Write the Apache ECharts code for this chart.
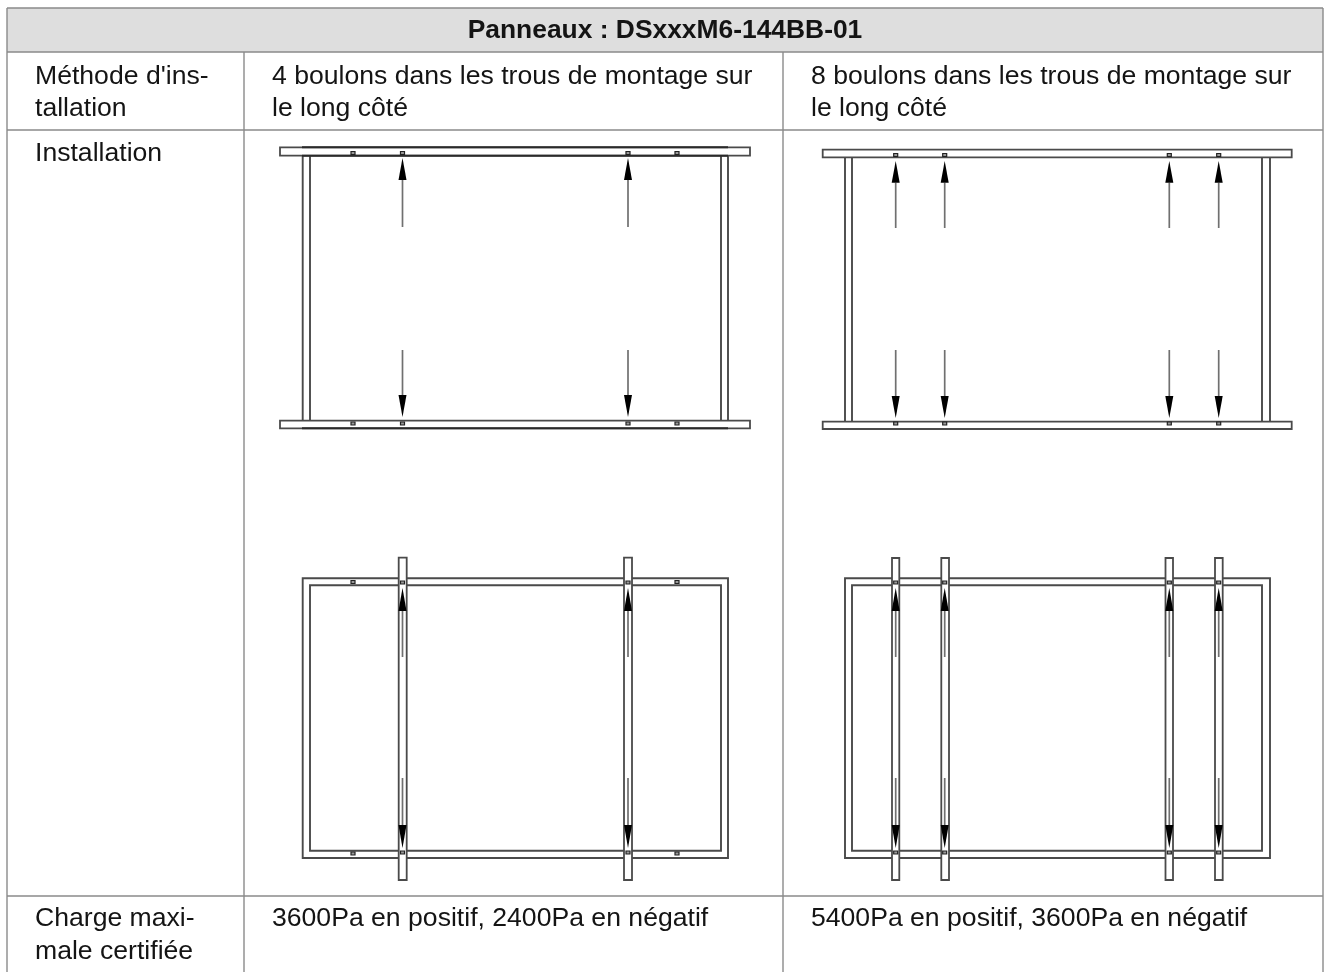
<!DOCTYPE html>
<html><head><meta charset="utf-8">
<style>html,body{margin:0;padding:0;background:#fff}#c{width:1324px;height:972px}</style>
<script src="https://cdn.jsdelivr.net/npm/echarts@6/dist/echarts.min.js"></script>
</head><body><div id="c"></div>
<script>
// Text cells: [x, y, text]
const headerText = [[665, 31, "Panneaux : DSxxxM6-144BB-01"]];
const bodyText = [
  [35, 77, "Méthode d'ins-"], [35, 109, "tallation"],
  [272, 77, "4 boulons dans les trous de montage sur"], [272, 109, "le long côté"],
  [811, 77, "8 boulons dans les trous de montage sur"], [811, 109, "le long côté"],
  [35, 154, "Installation"],
  [35, 919, "Charge maxi-"], [35, 952, "male certifiée"],
  [272, 919, "3600Pa en positif, 2400Pa en négatif"],
  [811, 919, "5400Pa en positif, 3600Pa en négatif"]
];
// Table rules: [x1, y1, x2, y2]
const tableRules = [
  [7, 8, 1323, 8], [7, 52, 1323, 52], [7, 130, 1323, 130], [7, 896, 1323, 896],
  [7, 8, 7, 972], [1323, 8, 1323, 972], [244, 52, 244, 972], [783, 52, 783, 972]
];
const headerBand = [[7, 8, 1323, 52]];
// Frames, drawn first: [x1, y1, x2, y2] as rectangles
const panelRects = [
  [302.7, 155, 310, 421], [721, 155, 728, 421],
  [845, 157, 852, 422], [1262, 157, 1270, 422],
  [302.7, 578.3, 728, 858], [310, 585.3, 721, 850.7],
  [845, 578.3, 1270, 858], [852, 585.3, 1262, 850.7]
];
// Mounting rails, white-filled, drawn on top of the frames
const railRects = [
  [280, 147.3, 750, 155.7], [280, 420.7, 750, 428.3],
  [822.7, 149.7, 1291.7, 157.3], [822.7, 421.7, 1291.7, 429],
  [398.7, 557.7, 406.7, 880], [624, 557.7, 632, 880],
  [892, 558, 899.3, 880], [941.3, 558, 949, 880], [1165.5, 558, 1173, 880], [1215, 558, 1222.7, 880]
];
// Heavier rail edge on the first diagram's rails
const heavyEdges = [[302, 147.3, 728, 147.3], [302, 155.7, 728, 155.7], [302, 428.3, 728, 428.3]];
// Holes: [x, y]
const holes = [
  [353, 153], [402.5, 153], [628, 153], [677, 153],
  [353, 423.5], [402.5, 423.5], [628, 423.5], [677, 423.5],
  [895.7, 155], [944.7, 155], [1169.3, 155], [1218.7, 155],
  [895.7, 423.5], [944.7, 423.5], [1169.3, 423.5], [1218.7, 423.5],
  [353, 582], [677, 582], [353, 853.5], [677, 853.5],
  [402.5, 582.5], [628, 582.5], [402.5, 852.5], [628, 852.5],
  [895.7, 582.5], [944.7, 582.5], [1169.3, 582.5], [1218.7, 582.5],
  [895.7, 852.5], [944.7, 852.5], [1169.3, 852.5], [1218.7, 852.5]
];
// Arrows: [x, tailY, baseY, tipY]
const arrows = [
  [402.5, 227, 180, 158], [628, 227, 180, 158], [402.5, 350, 395, 417], [628, 350, 395, 417],
  [895.7, 228, 182.7, 161], [944.7, 228, 182.7, 161], [1169.3, 228, 182.7, 161], [1218.7, 228, 182.7, 161],
  [895.7, 350, 396, 418], [944.7, 350, 396, 418], [1169.3, 350, 396, 418], [1218.7, 350, 396, 418],
  [402.5, 657, 611, 588], [628, 657, 611, 588], [402.5, 778, 825, 848], [628, 778, 825, 848],
  [895.7, 657, 611, 588], [944.7, 657, 611, 588], [1169.3, 657, 611, 588], [1218.7, 657, 611, 588],
  [895.7, 778, 825, 848], [944.7, 778, 825, 848], [1169.3, 778, 825, 848], [1218.7, 778, 825, 848]
];

const FONT = '"Liberation Sans", Arial, sans-serif';
function rectSeries(data, z, fill, stroke, lw) {
  return { type: 'custom', coordinateSystem: 'cartesian2d', data, z, silent: true, animation: false,
    encode: { x: [0, 2], y: [1, 3] },
    renderItem(p, api) {
      const a = api.coord([api.value(0), api.value(1)]), b = api.coord([api.value(2), api.value(3)]);
      return { type: 'rect', shape: { x: a[0], y: a[1], width: b[0] - a[0], height: b[1] - a[1] },
        style: { fill, stroke, lineWidth: lw } };
    } };
}
function lineSeries(data, z, stroke, lw) {
  return { type: 'custom', coordinateSystem: 'cartesian2d', data, z, silent: true, animation: false,
    encode: { x: [0, 2], y: [1, 3] },
    renderItem(p, api) {
      const a = api.coord([api.value(0), api.value(1)]), b = api.coord([api.value(2), api.value(3)]);
      return { type: 'line', shape: { x1: a[0], y1: a[1], x2: b[0], y2: b[1] }, style: { stroke, lineWidth: lw } };
    } };
}
function textSeries(data, z, font, align) {
  return { type: 'custom', coordinateSystem: 'cartesian2d', data, z, silent: true, animation: false,
    encode: { x: 0, y: 1 },
    renderItem(p, api) {
      const a = api.coord([api.value(0), api.value(1)]);
      return { type: 'text', x: a[0], y: a[1],
        style: { text: data[p.dataIndex][2], font, fill: '#141414', textAlign: align, textVerticalAlign: 'middle' } };
    } };
}
const holeSeries = { type: 'custom', coordinateSystem: 'cartesian2d', data: holes, z: 5, silent: true, animation: false,
  encode: { x: 0, y: 1 },
  renderItem(p, api) {
    const a = api.coord([api.value(0), api.value(1)]);
    return { type: 'rect', shape: { x: a[0] - 2, y: a[1] - 1.5, width: 4, height: 3 },
      style: { fill: '#999', stroke: '#222', lineWidth: 1.2 } };
  } };
const arrowSeries = { type: 'custom', coordinateSystem: 'cartesian2d', data: arrows, z: 6, silent: true, animation: false,
  encode: { x: 0, y: [1, 2, 3] },
  renderItem(p, api) {
    const x = api.value(0);
    const tail = api.coord([x, api.value(1)]), base = api.coord([x, api.value(2)]), tip = api.coord([x, api.value(3)]);
    return { type: 'group', children: [
      { type: 'line', shape: { x1: tail[0], y1: tail[1], x2: base[0], y2: base[1] }, style: { stroke: '#707070', lineWidth: 1.7 } },
      { type: 'polygon', shape: { points: [[tip[0], tip[1]], [base[0] - 4, base[1]], [base[0] + 4, base[1]]] }, style: { fill: '#000' } }
    ] };
  } };

const chart = echarts.init(document.getElementById('c'), null, { renderer: 'canvas' });
chart.setOption({
  backgroundColor: '#fff', animation: false,
  tooltip: { show: false }, legend: { show: false },
  grid: { left: 0, right: 0, top: 0, bottom: 0 },
  xAxis: { type: 'value', min: 0, max: 1324, show: false },
  yAxis: { type: 'value', min: 0, max: 972, inverse: true, show: false },
  series: [
    rectSeries(headerBand, 1, '#dedede', 'none', 0),
    lineSeries(tableRules, 2, '#8a8a8a', 1.4),
    rectSeries(panelRects, 3, 'none', '#4a4a4a', 1.9),
    rectSeries(railRects, 4, '#fff', '#4a4a4a', 1.8),
    lineSeries(heavyEdges, 4, '#2a2a2a', 2),
    holeSeries, arrowSeries,
    textSeries(headerText, 7, 'bold 26.4px ' + FONT, 'center'),
    textSeries(bodyText, 7, '26.6px ' + FONT, 'left')
  ]
});
</script></body></html>
